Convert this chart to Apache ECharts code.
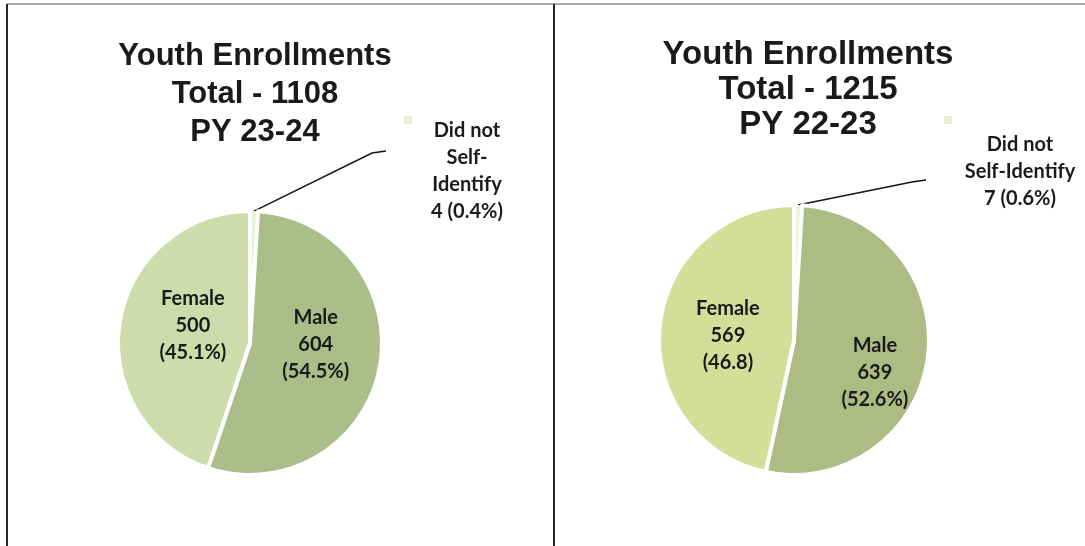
<!DOCTYPE html>
<html>
<head>
<meta charset="utf-8">
<title>Youth Enrollments</title>
<script src="https://cdn.jsdelivr.net/npm/echarts@6/dist/echarts.min.js"></script>
<style>
    html, body { margin: 0; padding: 0; background: #fff; }
    #chart { width: 1085px; height: 546px; }
</style>
</head>
<body>
<div id="chart"></div>
<script>
// 数据
const categories = ['Did not Self-Identify', 'Male', 'Female'];
const values2324 = [4, 604, 500];
const pct2324 = ['0.4%', '54.5%', '45.1%'];
const values2223 = [7, 639, 569];
const pct2223 = ['0.6%', '52.6%', '46.8'];
const titleTexts = [
    'Youth Enrollments\nTotal - 1108\nPY 23-24',
    'Youth Enrollments\nTotal - 1215\nPY 22-23'
];
const dnsNames = ['Did not\nSelf-\nIdentify', 'Did not\nSelf-Identify'];

// 版面（位置和颜色）
const panels = [
    {
        center: [250, 343], radius: 132,
        colors: ['#eaf0d6', '#abbd88', '#cddcaa'],
        title: { left: 250, top: 32, fontSize: 31, lineHeight: 38 },
        dnsLabel: [467, 171], bend: [372, 153], lineEnd: [386, 151],
        shift: [null, [-2, -12], [11, -6]],
        legend: [399, 111]
    },
    {
        center: [794, 340], radius: 135,
        colors: ['#eef2d8', '#aebb82', '#d3df98'],
        title: { left: 803, top: 32, fontSize: 33, lineHeight: 35 },
        dnsLabel: [1020, 172], bend: [912, 182], lineEnd: [926, 180],
        shift: [null, [11, 23], [4, 3]],
        legend: [939, 111]
    }
];

function buildPie(idx, values, pcts) {
    const panel = panels[idx];
    return {
        type: 'pie',
        center: panel.center,
        radius: panel.radius,
        startAngle: 90,
        clockwise: true,
        minAngle: 3.5,
        avoidLabelOverlap: false,
        animation: false,
        label: {
            position: 'inside',
            color: '#1b1b1b',
            fontFamily: 'Lato',
            fontWeight: 'bold',
            fontSize: 20,
            lineHeight: 27,
            formatter: function (p) {
                if (p.dataIndex === 0) {
                    return dnsNames[idx] + '\n' + p.value + ' (' + pcts[0] + ')';
                }
                return p.name + '\n' + p.value + '\n(' + pcts[p.dataIndex] + ')';
            }
        },
        labelLine: { show: false },
        labelLayout: function (params) {
            if (params.dataIndex !== 0) {
                const s = panel.shift[params.dataIndex];
                return { dx: s[0], dy: s[1] };
            }
            const p0 = params.labelLinePoints ? params.labelLinePoints[0] : panel.center;
            return {
                x: panel.dnsLabel[0],
                y: panel.dnsLabel[1],
                align: 'center',
                verticalAlign: 'middle',
                labelLinePoints: [p0, panel.bend, panel.lineEnd]
            };
        },
        data: categories.map(function (name, i) {
            const item = {
                name: name,
                value: values[i],
                itemStyle: {
                    color: panel.colors[i],
                    borderColor: '#fff',
                    borderWidth: i === 0 ? 0 : 4
                }
            };
            if (i === 0) {
                item.label = { position: 'outside', align: 'center' };
                item.labelLine = {
                    show: true,
                    length: 20,
                    length2: 20,
                    lineStyle: { color: '#141414', width: 1.5 }
                };
            }
            return item;
        })
    };
}

const myChart = echarts.init(document.getElementById('chart'));

const option = {
    backgroundColor: '#fff',
    title: panels.map(function (panel, i) {
        return {
            text: titleTexts[i],
            left: panel.title.left,
            top: panel.title.top,
            textAlign: 'center',
            textStyle: {
                fontFamily: 'Liberation Sans',
                fontWeight: 'bold',
                fontSize: panel.title.fontSize,
                lineHeight: panel.title.lineHeight,
                color: '#1a1a1a'
            }
        };
    }),
    legend: panels.map(function (panel) {
        return {
            data: [categories[0]],
            left: panel.legend[0],
            top: panel.legend[1],
            icon: 'rect',
            itemWidth: 8,
            itemHeight: 8,
            selectedMode: false,
            formatter: function () { return ''; }
        };
    }),
    graphic: [
        { type: 'line', shape: { x1: 7, y1: 4, x2: 1085, y2: 4 }, style: { stroke: '#8e8e8e', lineWidth: 1.5 } },
        { type: 'line', shape: { x1: 7, y1: 4, x2: 7, y2: 546 }, style: { stroke: '#262626', lineWidth: 2 } },
        { type: 'line', shape: { x1: 554, y1: 4, x2: 554, y2: 546 }, style: { stroke: '#262626', lineWidth: 2 } }
    ],
    series: [
        buildPie(0, values2324, pct2324),
        buildPie(1, values2223, pct2223)
    ]
};

myChart.setOption(option);
</script>
</body>
</html>
